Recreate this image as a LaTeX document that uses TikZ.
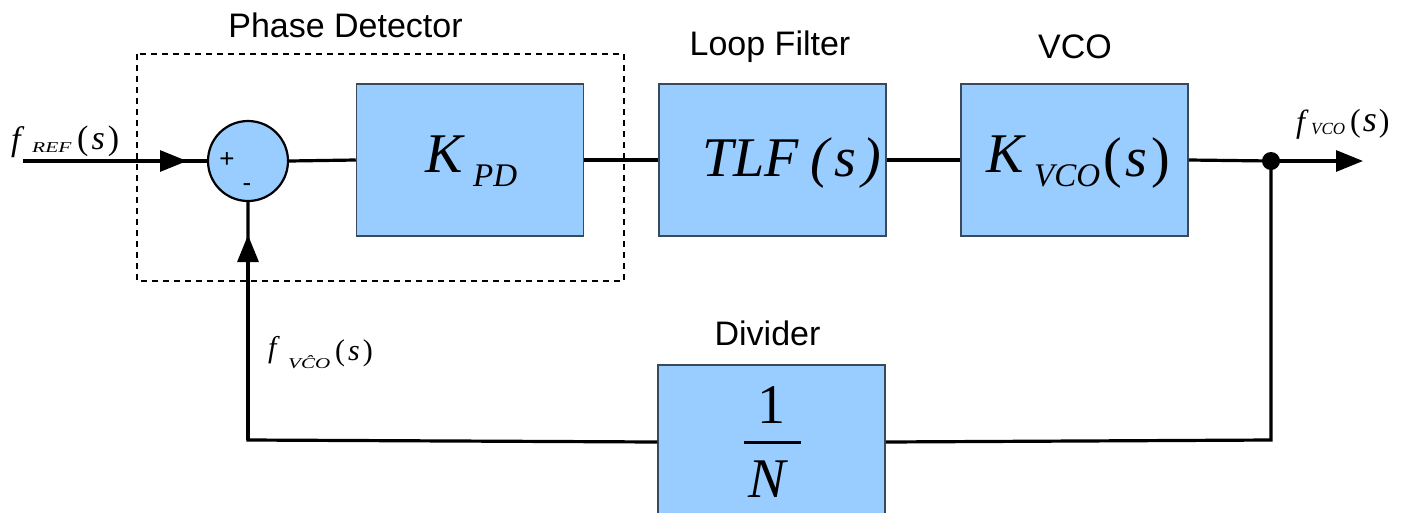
\documentclass[tikz,border=0pt]{standalone}
\usepackage{fontspec}
\setmainfont{Liberation Sans}
\newfontfamily\tnr{Liberation Serif}
\usetikzlibrary{arrows.meta}
\definecolor{blockblue}{HTML}{99CCFF}
\definecolor{blockedge}{HTML}{3A4A5A}
\newcommand{\fs}[1]{\fontsize{#1}{#1}\selectfont}
\begin{document}
\begin{tikzpicture}[x=1pt,y=-1pt,
  block/.style={draw=blockedge,line width=1.5pt,fill=blockblue,minimum width=227pt,minimum height=152pt,inner sep=0pt},
  wire/.style={line width=3.2pt},
  arr/.style={line width=3.2pt,-{Triangle[length=27pt,width=21pt]}},
  title/.style={font=\fs{34},anchor=base,inner sep=0pt},
  mtxt/.style={inner sep=0pt,anchor=base west,font=\tnr},
  sign/.style={inner sep=0pt,anchor=base,font=\fs{26}}
]
\useasboundingbox (0,0) rectangle (1418,512);
\clip (0,0) rectangle (1418,512);
% dashed phase detector box
\draw[line width=2.5pt,dash pattern=on 6pt off 5pt] (137,54) rectangle (624,281);
% blocks
\node[draw=black,line width=2.2pt,fill=blockblue,circle,minimum size=80pt,inner sep=0pt] (sum) at (248,161) {};
\node[block] (kpd) at (470,160) {};
\node[block] (tlf) at (772.5,160) {};
\node[block] (kvco) at (1074.5,160) {};
\node[block,minimum height=154pt] (div) at (771.5,442) {};
% +/- signs
\node[sign] (plus) at (227,167) {+};
\node[sign] (minus) at (247,191) {-};
% titles
\node[title] (tpd) at (345.5,37) {Phase Detector};
\node[title] (tlfl) at (770,55) {Loop Filter};
\node[title] (tvco) at (1075,58) {VCO};
\node[title] (tdiv) at (767.5,345) {Divider};
% block texts
\node[mtxt] (kpdK) at (425,172) {\fs{56}\itshape K};
\node[mtxt] (kpdS) at (473,186) {\fs{33}\itshape PD};
\node[mtxt] (tlfT) at (702,176) {\fs{56}\itshape TLF\,\hspace{2pt}(\hspace{6pt}s\hspace{6pt})};
\node[mtxt] (kvK) at (986,172) {\fs{56}\itshape K};
\node[mtxt] (kvS) at (1034,186) {\fs{33}\itshape VCO};
\node[mtxt] (kvP) at (1103,176) {\fs{56}(\hspace{4pt}\itshape s\upshape\hspace{4pt})};
\node[mtxt] (one) at (757,423) {\fs{56}1};
\draw[line width=3pt] (744,442) -- (801,442);
\node[mtxt] (enN) at (748,497) {\fs{56}\itshape N};
% signal labels
\node[mtxt] (fref) at (11,150) {\fs{34}\itshape f};
\node[mtxt] (frefS) at (32,152) {\scalebox{1.43}[1]{\fs{15}\itshape REF}};
\node[mtxt] (frefP) at (77,149) {\fs{34}(\hspace{3pt}\itshape s\upshape\hspace{3pt})};
\node[mtxt] (fvco) at (1296,132) {\fs{32}\itshape f};
\node[mtxt] (fvcoS) at (1311,134) {\fs{17}\itshape VCO};
\node[mtxt] (fvcoP) at (1350,131) {\fs{32}(\hspace{2pt}\fs{36}\itshape s\upshape\fs{32}\hspace{2pt})};
\node[mtxt] (fhat) at (268,357) {\fs{30}\itshape f};
\node[mtxt] (fhatS) at (288,368) {\scalebox{1.4}[1]{\fs{15}\itshape V\^{C}O}};
\node[mtxt] (fhatP) at (335,360) {\fs{30}(\hspace{3pt}\itshape s\upshape\hspace{3pt})};
% coordinates
\coordinate (in) at (23,161);
\coordinate (inA) at (187,161);
\coordinate (out) at (1363,161);
\coordinate (fbA) at (248,235);
\coordinate (c1) at (1271,440);
\coordinate (c2) at (248,440);
% connectors
\draw[wire] (in) -- (sum.west);
\draw[arr] (in) -- (inA);
\draw[wire] (sum.east) -- (kpd.west);
\draw[wire] (kpd.east) -- (tlf.west);
\draw[wire] (tlf.east) -- (kvco.west);
\draw[wire] (kvco.east) -- (1271,161) coordinate (tap);
\draw[arr] (tap) -- (out);
\draw[wire] (tap) -- (c1) -- (div.east);
\draw[wire] (div.west) -- (c2) -- (sum.south);
\draw[arr] (c2) -- (fbA);
\fill (tap) circle (9pt);
\end{tikzpicture}
\end{document}
